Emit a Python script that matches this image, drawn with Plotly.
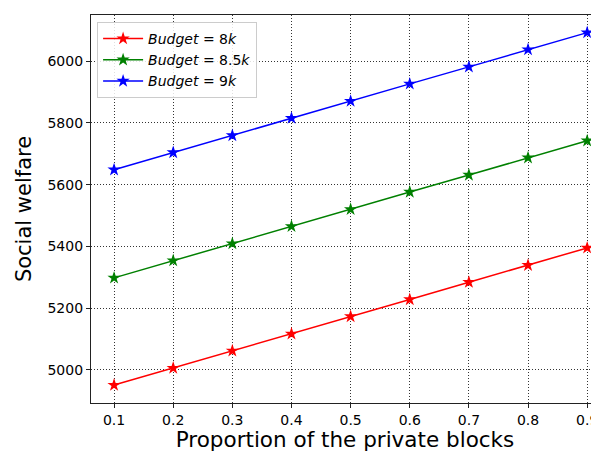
import plotly.graph_objects as go

proportions = [0.1, 0.2, 0.3, 0.4, 0.5, 0.6, 0.7, 0.8, 0.9]
welfare_8k = [4951, 5006, 5062, 5117, 5173, 5228, 5284, 5339, 5395]
welfare_8_5k = [5298, 5354, 5409, 5465, 5520, 5576, 5631, 5687, 5742]
welfare_9k = [5648, 5704, 5759, 5815, 5870, 5926, 5981, 6037, 6092]
series_names = ["<i>Budget</i> = 8<i>k</i>", "<i>Budget</i> = 8.5<i>k</i>", "<i>Budget</i> = 9<i>k</i>"]
colors = ["#ff0000", "#008000", "#0000ff"]
x_ticks = [0.1, 0.2, 0.3, 0.4, 0.5, 0.6, 0.7, 0.8, 0.9]
y_ticks = [5000, 5200, 5400, 5600, 5800, 6000]

fig = go.Figure()
for name, vals, c in zip(series_names, [welfare_8k, welfare_8_5k, welfare_9k], colors):
    fig.add_trace(go.Scatter(
        x=proportions, y=vals, mode="lines+markers", name=name,
        line=dict(color=c, width=1.5),
        marker=dict(symbol="star", size=10, color=c),
    ))

axis_common = dict(
    showline=True, linecolor="#222222", linewidth=1.2, mirror=True,
    ticks="outside", ticklen=4, tickcolor="#222222",
    showgrid=True, gridcolor="#333333", gridwidth=1, griddash="1px,2px",
    zeroline=False, automargin=False,
    tickfont=dict(family="DejaVu Sans", size=14, color="black"),
)

fig.update_layout(
    width=591, height=444,
    margin=dict(l=83, r=0, t=7, b=49),
    paper_bgcolor="white", plot_bgcolor="white",
    font=dict(family="DejaVu Sans", color="black"),
    xaxis=dict(range=[0.061, 0.92], tickvals=x_ticks, ticktext=[str(v) for v in x_ticks],
               title=dict(text="Proportion of the private blocks", font=dict(size=21.5), standoff=4),
               **axis_common),
    yaxis=dict(range=[4893, 6149], tickvals=y_ticks,
               title=dict(text="Social welfare", font=dict(size=21), standoff=10),
               **axis_common),
    legend=dict(x=0.012, y=0.982, xanchor="left", yanchor="top",
                bgcolor="rgba(255,255,255,0.85)", bordercolor="#cccccc", borderwidth=1,
                font=dict(family="DejaVu Sans", size=14, color="black"),
                itemwidth=40, tracegroupgap=2),
    showlegend=True,
)

fig.write_html("out.html")
